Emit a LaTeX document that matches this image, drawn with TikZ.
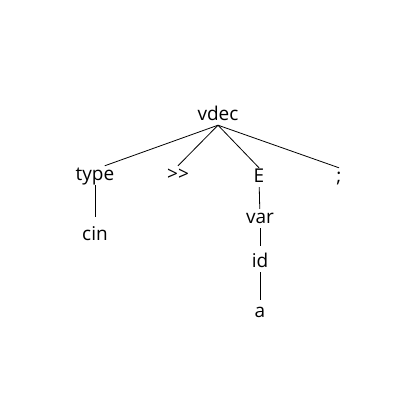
\documentclass[tikz,border=0pt]{standalone}
\usepackage{fontspec}
\setmainfont{Open Sans}
\usepackage{tikz}

\begin{document}
\begin{tikzpicture}[
  x=1pt, y=-1pt,
  sym/.style={anchor=base, inner sep=2pt, text height=12pt, text depth=3pt,
              font=\fontsize{19}{22}\selectfont},
  edge/.style={draw=black, line width=0.8pt}
]
  \useasboundingbox (0,0) rectangle (420,420);

  % root
  \node[sym] (vdec) at (218,120) {vdec};

  % children of vdec
  \node[sym] (type) at (95,180)  {type};
  \node[sym] (shr)  at (178,180) {{>}{>}};
  \node[sym] (E)    at (259,182) {E};
  \node[sym] (semi) at (339,182) {;};

  % leaves
  \node[sym] (cin) at (95,240)  {cin};
  \node[sym] (var) at (260,223) {var};
  \node[sym] (id)  at (260,267) {id};
  \node[sym] (a)   at (260,317) {a};

  % edges
  \draw[edge] (vdec.south) -- (type.45);
  \draw[edge] (vdec.south) -- (shr.north);
  \draw[edge] (vdec.south) -- (E.north);
  \draw[edge] (vdec.south) -- (semi.north);
  \draw[edge, shorten >=9pt] (type) -- (cin);
  \draw[edge] (E) -- (var);
  \draw[edge, shorten >=7pt] (var) -- (id);
  \draw[edge, shorten >=3pt] (id) -- (a);
\end{tikzpicture}
\end{document}
